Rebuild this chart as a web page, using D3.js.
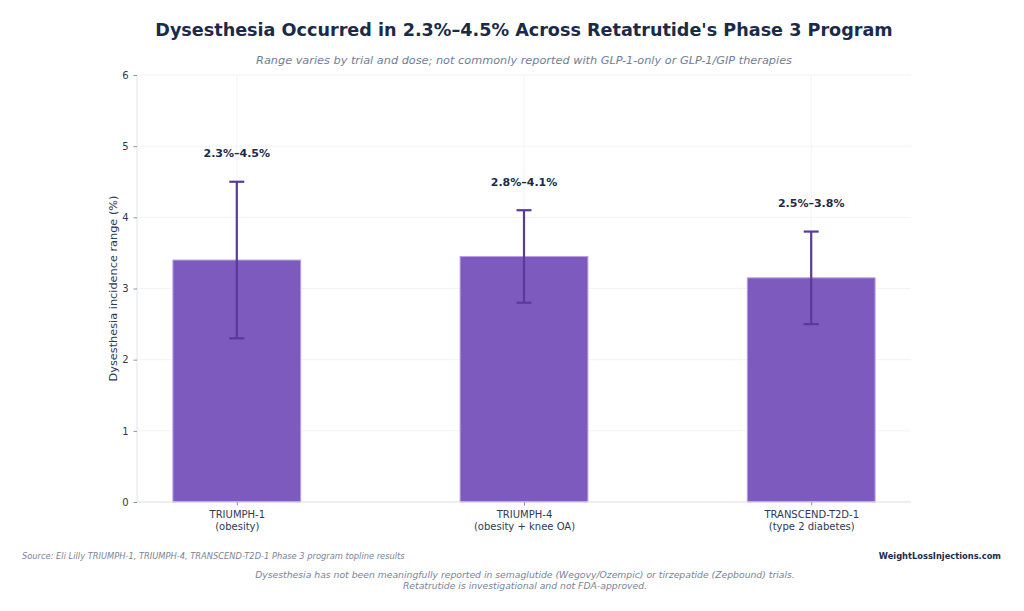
<!DOCTYPE html>
<html><head><meta charset="utf-8">
<script src="https://cdn.jsdelivr.net/npm/d3@7"></script>
<style>
html,body{margin:0;padding:0;background:#fff;}
svg text{font-family:"DejaVu Sans",sans-serif;}
</style></head>
<body>
<svg id="chart" width="1024" height="611"></svg>
<script>
const categories = ["TRIUMPH-1\n(obesity)", "TRIUMPH-4\n(obesity + knee OA)", "TRANSCEND-T2D-1\n(type 2 diabetes)"];
const lowValues = [2.3, 2.8, 2.5];
const highValues = [4.5, 4.1, 3.8];
const rangeLabels = ["2.3%–4.5%", "2.8%–4.1%", "2.5%–3.8%"];
const yTicks = [0, 1, 2, 3, 4, 5, 6];

const svg = d3.select("#chart");
const L = 137, R = 911, T = 75, B = 502;
const barW = 0.445;
const x = d3.scaleLinear().domain([-0.3475, 2.3475]).range([L, R]);
const y = d3.scaleLinear().domain([0, 6]).range([B, T]);
const mids = lowValues.map((v, i) => (v + highValues[i]) / 2);

const grid = svg.append("g");
grid.selectAll(".gy").data(yTicks).join("line")
  .attr("x1", L).attr("x2", R).attr("y1", d => y(d)).attr("y2", d => y(d))
  .attr("stroke", "#f0f0f3").attr("stroke-width", 0.8);
grid.selectAll(".gx").data(categories).join("line")
  .attr("x1", (d, i) => x(i)).attr("x2", (d, i) => x(i)).attr("y1", T).attr("y2", B)
  .attr("stroke", "#f0f0f3").attr("stroke-width", 0.8);

// bars
svg.append("g").selectAll("rect").data(mids).join("rect")
  .attr("x", (d, i) => x(i - barW / 2)).attr("width", x(barW) - x(0))
  .attr("y", d => y(d)).attr("height", d => B - y(d))
  .attr("fill", "#7d5bbe").attr("stroke", "#b8a2e3").attr("stroke-width", 1);

// error bars
const eb = svg.append("g").attr("stroke", "#5a3a99").attr("stroke-width", 2.2).attr("fill", "none");
lowValues.forEach((lo, i) => {
  const cx = x(i);
  eb.append("line").attr("x1", cx).attr("x2", cx).attr("y1", y(lo)).attr("y2", y(highValues[i]));
  eb.append("line").attr("x1", cx - 7.5).attr("x2", cx + 7.5).attr("y1", y(lo)).attr("y2", y(lo));
  eb.append("line").attr("x1", cx - 7.5).attr("x2", cx + 7.5).attr("y1", y(highValues[i])).attr("y2", y(highValues[i]));
});

// range labels
svg.append("g").selectAll("text").data(rangeLabels).join("text")
  .attr("x", (d, i) => x(i)).attr("y", (d, i) => y(highValues[i] + 0.39))
  .attr("text-anchor", "middle").attr("dominant-baseline", "central")
  .attr("font-size", 11).attr("font-weight", "bold").attr("fill", "#1a2b4a")
  .text(d => d);

// spines
svg.append("line").attr("x1", L).attr("x2", L).attr("y1", T).attr("y2", B).attr("stroke", "#e2e4ea").attr("stroke-width", 1);
svg.append("line").attr("x1", L).attr("x2", R).attr("y1", B).attr("y2", B).attr("stroke", "#e2e4ea").attr("stroke-width", 1);

// y axis
const yAxis = d3.axisLeft(y).tickValues(yTicks).tickSize(3.5).tickPadding(5).tickFormat(d3.format("d"));
const ya = svg.append("g").attr("transform", `translate(${L},0)`).call(yAxis);
ya.select(".domain").remove();
ya.selectAll("line").attr("stroke", "#8a93a6");
ya.selectAll("text").attr("font-size", 10).attr("fill", "#2d3a55").attr("font-family", "DejaVu Sans");

// x axis
const xAxis = d3.axisBottom(x).tickValues([0, 1, 2]).tickSize(3.5).tickPadding(5).tickFormat("");
const xa = svg.append("g").attr("transform", `translate(0,${B})`).call(xAxis);
xa.select(".domain").remove();
xa.selectAll("line").attr("stroke", "#8a93a6");
xa.selectAll(".tick").each(function(d) {
  const lines = categories[d].split("\n");
  const t = d3.select(this).append("text").attr("text-anchor", "middle")
    .attr("font-size", 10).attr("fill", "#2d3a55").attr("font-family", "DejaVu Sans");
  lines.forEach((ln, k) => t.append("tspan").attr("x", 0).attr("y", 16 + k * 12).text(ln));
});

// y label
svg.append("text").attr("transform", `translate(117,${(T + B) / 2}) rotate(-90)`)
  .attr("text-anchor", "middle").attr("font-size", 11.3).attr("fill", "#2d3a55")
  .text("Dysesthesia incidence range (%)");

// title & subtitle
svg.append("text").attr("x", (L + R) / 2).attr("y", 36).attr("text-anchor", "middle")
  .attr("font-size", 17.6).attr("font-weight", "bold").attr("fill", "#1a2b4a")
  .text("Dysesthesia Occurred in 2.3%–4.5% Across Retatrutide's Phase 3 Program");
svg.append("text").attr("x", (L + R) / 2).attr("y", 64).attr("text-anchor", "middle")
  .attr("font-size", 11.3).attr("font-style", "italic").attr("fill", "#718096")
  .text("Range varies by trial and dose; not commonly reported with GLP-1-only or GLP-1/GIP therapies");

// footer
svg.append("text").attr("x", 22).attr("y", 559).attr("font-size", 8.3).attr("font-style", "italic").attr("fill", "#7a8496")
  .text("Source: Eli Lilly TRIUMPH-1, TRIUMPH-4, TRANSCEND-T2D-1 Phase 3 program topline results");
svg.append("text").attr("x", 1001).attr("y", 559).attr("text-anchor", "end").attr("font-size", 8.3).attr("font-weight", "bold").attr("fill", "#1a2b4a")
  .text("WeightLossInjections.com");
const fn = svg.append("text").attr("text-anchor", "middle").attr("font-size", 9.25).attr("font-style", "italic").attr("fill", "#7a8496");
fn.append("tspan").attr("x", 525).attr("y", 578).text("Dysesthesia has not been meaningfully reported in semaglutide (Wegovy/Ozempic) or tirzepatide (Zepbound) trials.");
fn.append("tspan").attr("x", 525).attr("y", 588.5).text("Retatrutide is investigational and not FDA-approved.");
</script>
</body></html>
